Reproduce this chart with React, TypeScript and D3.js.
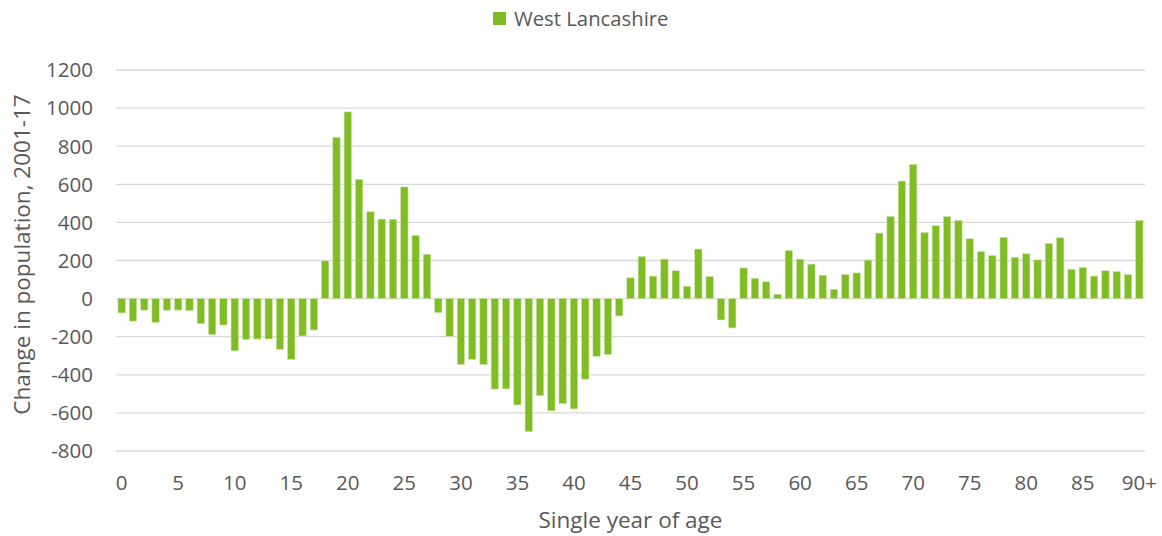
import React from 'react';
import * as d3 from 'd3';

// Change in population 2001-17 by single year of age, West Lancashire
const ages: string[] = Array.from({ length: 91 }, (_, i) => (i === 90 ? '90+' : String(i)));

const changeValues: number[] = [
  -75, -118, -60, -125, -61, -60, -63, -132, -189, -139,
  -274, -214, -212, -212, -267, -319, -196, -165, 198, 847,
  980, 626, 456, 417, 416, 586, 331, 233, -74, -198,
  -346, -319, -347, -475, -474, -558, -698, -510, -589, -551,
  -579, -423, -303, -293, -91, 109, 221, 118, 207, 146,
  65, 260, 116, -112, -154, 161, 107, 88, 23, 253,
  207, 181, 123, 49, 126, 135, 202, 344, 431, 617,
  705, 347, 382, 430, 410, 314, 247, 226, 321, 217,
  235, 203, 289, 319, 154, 163, 118, 146, 142, 126,
  410,
];

const yTicks: number[] = [-800, -600, -400, -200, 0, 200, 400, 600, 800, 1000, 1200];
const xTickLabels: string[] = ['0', '5', '10', '15', '20', '25', '30', '35', '40', '45', '50', '55', '60', '65', '70', '75', '80', '85', '90+'];

const seriesName = 'West Lancashire';

const W = 1162;
const H = 536;
const margin = { top: 70, right: 17, bottom: 85, left: 116 };
const barColor = '#80bc23';
const textColor = '#595959';
const font = '"Open Sans", sans-serif';

export default function App() {
  const x = d3
    .scaleBand<string>()
    .domain(ages)
    .range([margin.left, W - margin.right])
    .paddingInner(0.35)
    .paddingOuter(0.175);
  const y = d3.scaleLinear().domain([-800, 1200]).range([H - margin.bottom, margin.top]);

  const data = ages.map((a, i) => ({ age: a, value: changeValues[i] }));

  return (
    <svg width={W} height={H} style={{ position: 'absolute', left: 0, top: 0, background: '#fff' }}>
      {/* legend */}
      <rect x={493} y={12} width={13} height={13} fill={barColor} />
      <text x={514} y={25.5} fontFamily={font} fontSize={20.3} fill={textColor}>
        {seriesName}
      </text>

      {/* gridlines */}
      {yTicks.map((t) => (
        <line
          key={t}
          x1={margin.left}
          x2={W - margin.right}
          y1={y(t)}
          y2={y(t)}
          stroke="#d9d9d9"
          strokeWidth={1.3}
        />
      ))}

      {/* y tick labels */}
      {yTicks.map((t) => (
        <text
          key={'yl' + t}
          x={93}
          y={y(t)}
          dy="0.36em"
          textAnchor="end"
          fontFamily={font}
          fontSize={20.5}
          fill={textColor}
        >
          {t}
        </text>
      ))}

      {/* bars */}
      {data.map((d) => (
        <rect
          key={d.age}
          x={x(d.age)}
          width={x.bandwidth()}
          y={y(Math.max(0, d.value))}
          height={Math.abs(y(d.value) - y(0))}
          fill={barColor}
          stroke="#c9e4a4"
          strokeWidth={0.6}
        />
      ))}

      {/* x tick labels */}
      {xTickLabels.map((l) => (
        <text
          key={'xl' + l}
          x={(x(l) ?? 0) + x.bandwidth() / 2}
          y={483}
          dy="0.36em"
          textAnchor="middle"
          fontFamily={font}
          fontSize={20.5}
          fill={textColor}
        >
          {l}
        </text>
      ))}

      {/* axis titles */}
      <text
        x={(margin.left + W - margin.right) / 2}
        y={520}
        dy="0.36em"
        textAnchor="middle"
        fontFamily={font}
        fontSize={22.5}
        fill={textColor}
      >
        Single year of age
      </text>
      <text
        transform={`translate(22, ${(margin.top + H - margin.bottom) / 2 - 6}) rotate(-90)`}
        dy="0.36em"
        textAnchor="middle"
        fontFamily={font}
        fontSize={22.5}
        fill={textColor}
      >
        Change in population, 2001-17
      </text>
    </svg>
  );
}
